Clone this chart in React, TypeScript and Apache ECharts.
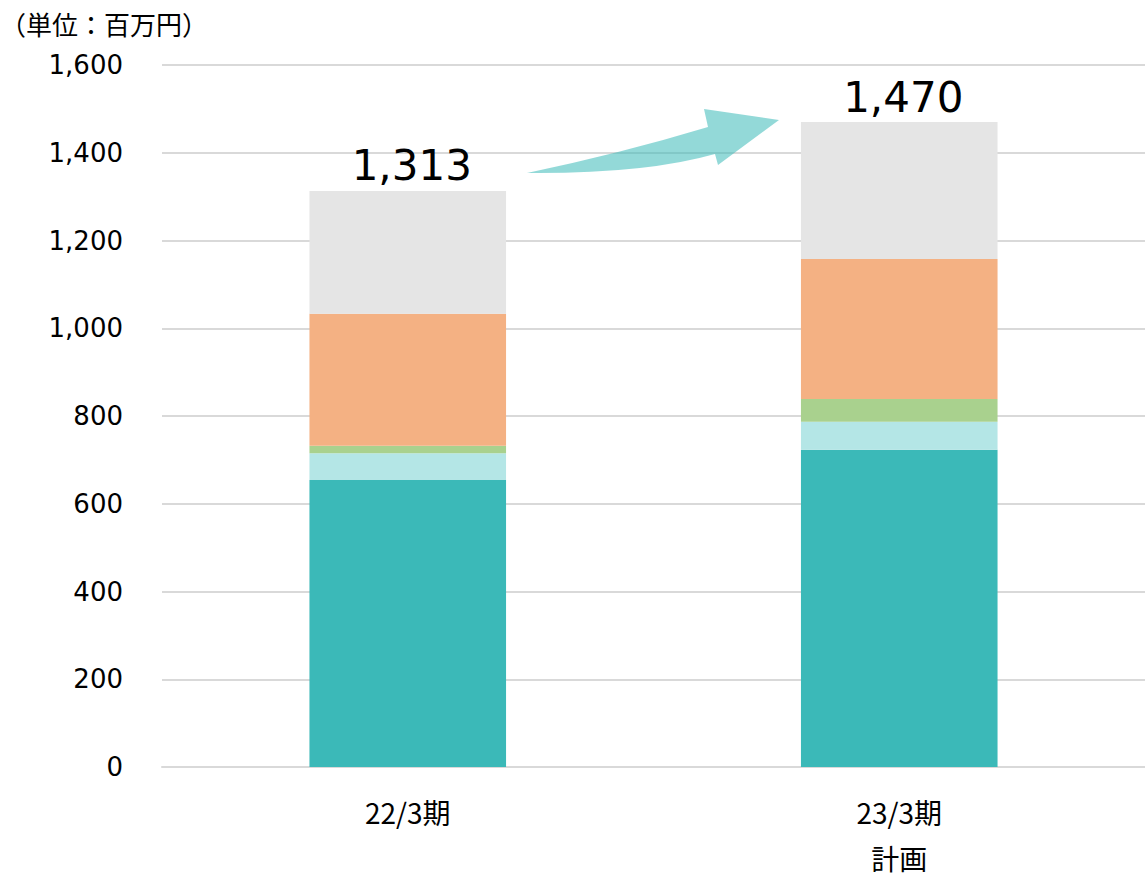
import React, { useEffect, useRef } from "react";
import * as echarts from "echarts";

// Fiscal periods on the category axis
const categories = ["22/3期", "23/3期\n計画"];

// Stacked components (百万円), bottom to top
const seriesTeal = [654, 723];
const seriesCyan = [61, 64];
const seriesGreen = [17, 52];
const seriesOrange = [301, 319];
const seriesGray = [280, 312];

const yTicks = { min: 0, max: 1600, interval: 200 };
const unitLabel = "（単位：百万円）";

const colors = ["#3BB9B8", "#B4E6E6", "#A9D18E", "#F4B183", "#E5E5E5"];

// Curved growth arrow between the two bars
echarts.graphic.registerShape(
  "growthArrow",
  echarts.graphic.extendPath(
    "M527 173 Q622 153 708 127 L704 109 L779 120 L718 165 L715 154 Q645 174 527 173 Z",
    {}
  )
);

const NUM_FONT = "'DejaVu Sans', 'Noto Sans CJK JP', sans-serif";
const JP_FONT = "'Noto Sans CJK JP', 'Noto Sans', sans-serif";

export default function App() {
  const ref = useRef<HTMLDivElement>(null);

  useEffect(() => {
    if (!ref.current) return;
    const chart = echarts.init(ref.current, null, { renderer: "svg" });

    const stacks = [seriesTeal, seriesCyan, seriesGreen, seriesOrange, seriesGray];
    const totals = categories.map((_, i) => stacks.reduce((s, arr) => s + arr[i], 0));
    const fmt = (v: number) => v.toLocaleString("en-US");

    const series = stacks.map((data, idx) => ({
      type: "bar",
      stack: "total",
      data,
      barWidth: "40%",
      itemStyle: { color: colors[idx] },
      label:
        idx === stacks.length - 1
          ? {
              show: true,
              position: "top",
              distance: 4,
              offset: [4, 0],
              fontSize: 42,
              fontFamily: NUM_FONT,
              color: "#000",
              formatter: (p: any) => fmt(totals[p.dataIndex]),
            }
          : { show: false },
      z: 3,
    }));

    chart.setOption({
      animation: false,
      grid: { left: 162, top: 65, width: 988, height: 712 },
      xAxis: {
        type: "category",
        data: categories,
        axisLine: { show: true, lineStyle: { color: "#D9D9D9", width: 2 } },
        axisTick: { show: false },
        axisLabel: {
          fontSize: 28,
          fontFamily: JP_FONT,
          color: "#000",
          lineHeight: 46,
          margin: 22,
        },
      },
      yAxis: {
        type: "value",
        min: yTicks.min,
        max: yTicks.max,
        interval: yTicks.interval,
        axisLine: { show: false },
        axisTick: { show: false },
        splitLine: { lineStyle: { color: "#D9D9D9", width: 2 } },
        axisLabel: {
          fontSize: 26,
          fontFamily: NUM_FONT,
          color: "#000",
          margin: 39,
          formatter: (v: number) => fmt(v),
        },
      },
      graphic: [
        {
          type: "text",
          left: 0,
          top: 10,
          style: {
            text: unitLabel,
            fontSize: 26,
            fontFamily: JP_FONT,
            fill: "#000",
          },
        },
        {
          type: "growthArrow",
          x: 0,
          y: 0,
          z: 10,
          style: { fill: "#3BB9B8", opacity: 0.55 },
        },
      ],
      series,
    });

    return () => chart.dispose();
  }, []);

  return (
    <div
      ref={ref}
      style={{ position: "fixed", left: 0, top: 0, width: 1145, height: 881, background: "#fff" }}
    />
  );
}
